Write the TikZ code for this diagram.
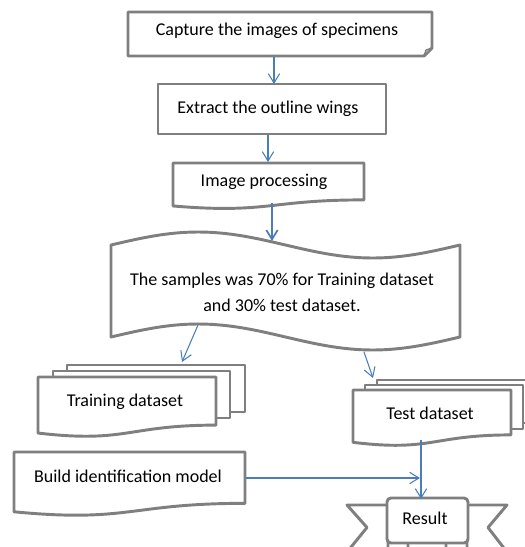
\documentclass[tikz,border=0pt]{standalone}
\usepackage{fontspec}
\setmainfont{Carlito}
\usetikzlibrary{arrows.meta,calc}

\definecolor{shapegray}{RGB}{127,127,127}
\definecolor{flowblue}{RGB}{74,126,187}

\tikzset{
  shapeline/.style={draw=shapegray, line width=2.2pt, fill=white, line join=round},
  lbl/.style={font=\fontsize{13.5}{16}\selectfont, text=black, inner sep=0pt},
  flow/.style={draw=flowblue, line width=0.8pt, -{Straight Barb[length=7pt,width=8.5pt]}},
}

% flowchart "document" shape: x0, y0, width, height (y grows downward)
\newcommand\flowdoc[4]{%
  \path[shapeline] (#1,#2) -- ({#1+#3},#2) -- ({#1+#3},{#2+0.802*#4})
    .. controls ({#1+0.5*#3},{#2+0.802*#4}) and ({#1+0.5*#3},{#2+1.1075*#4}) ..
    (#1,{#2+0.934*#4}) -- cycle;}

\begin{document}
\begin{tikzpicture}[x=0.75pt,y=-0.75pt]
\useasboundingbox (0,0) rectangle (525,547);
\clip (0,0) rectangle (525,547);

% --- capture step (folded corner card)
\path[shapeline] (128,12) -- (432,12) -- (432,48) -- (424,56) -- (128,56) -- cycle;
\path[shapeline, fill=shapegray!55, line width=1pt] (424,56) -- (426,50) -- (432,48) -- cycle;
\node[lbl] (capture) at (277,31) {Capture the images of specimens};

% --- extract step
\path[shapeline] (158,84) rectangle (386,134);
\node[lbl] (extract) at (268,109) {Extract the outline wings};

% --- image processing (document)
\flowdoc{173}{163}{191}{46}
\node[lbl] (improc) at (264,182) {Image processing};

% --- split (punched tape)
\path[shapeline] (111,245)
  sin (198.25,232) cos (285.5,245) sin (372.75,258) cos (460,245)
  -- (460,337)
  sin (372.75,350) cos (285.5,337) sin (198.25,324) cos (111,337)
  -- cycle;
\node[lbl, align=center, font=\fontsize{13.5}{19.5}\selectfont] (split) at (282,292)
  {The samples was 70\% for Training dataset\\and 30\% test dataset.};

% --- training dataset (multidocument)
\path[shapeline] (67,365) rectangle (245,412);
\path[shapeline] (53,371) rectangle (230,418);
\flowdoc{38}{377}{178}{60}
\node[lbl] (train) at (125,402) {Training dataset};

% --- test dataset (multidocument)
\path[shapeline] (377,380) rectangle (540,423);
\path[shapeline] (365,385) rectangle (523,429);
\flowdoc{353}{390}{158}{56}
\node[lbl] (test) at (430,413) {Test dataset};

% --- build model (document)
\flowdoc{14}{452}{231}{64}
\node[lbl] (build) at (128,476) {Build identification model};

% --- result (ribbon)
\path[shapeline] (387,505) -- (347,505) -- (367,527.5) -- (347,552);
\path[shapeline] (468,505) -- (507,505) -- (488,527.5) -- (507,552);
\path[shapeline, rounded corners=2pt] (388,538) rectangle (408,556);
\path[shapeline, rounded corners=2pt] (446,538) rectangle (467,556);
\path[shapeline, rounded corners=3pt] (387,498) rectangle (468,543);
\node[lbl] (result) at (425,518) {Result};

% --- connector end points
\coordinate (captureOut) at (274,57);
\coordinate (extractIn)  at (274,84);
\coordinate (extractOut) at (268,135);
\coordinate (improcIn)   at (268,162);
\coordinate (improcOut)  at (272,203);
\coordinate (splitIn)    at (272,241);
\coordinate (splitL)     at (198,325);
\coordinate (trainIn)    at (182,362);
\coordinate (splitR)     at (364,352);
\coordinate (testIn)     at (373,378);
\coordinate (testOut)    at (421,440);
\coordinate (resultIn)   at (421,499);
\coordinate (buildOut)   at (246,478);
\coordinate (joinIn)     at (420,478);

% --- connectors
\draw[flow] (captureOut) -- (extractIn);
\draw[flow] (extractOut) -- (improcIn);
\draw[flow, line width=1.3pt] (improcOut) -- (splitIn);
\draw[flow] (splitL) -- (trainIn);
\draw[flow] (splitR) -- (testIn);
\draw[flow] (testOut) -- (resultIn);
\draw[flow] (buildOut) -- (joinIn);
\end{tikzpicture}
\end{document}
